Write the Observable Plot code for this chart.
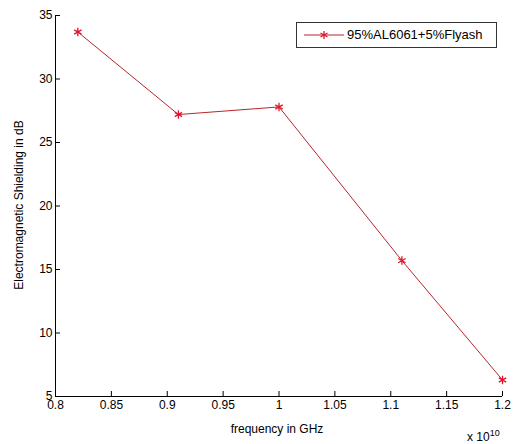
<!DOCTYPE html>
<html><head><meta charset="utf-8">
<script src="https://cdn.jsdelivr.net/npm/d3@7"></script>
<script src="https://cdn.jsdelivr.net/npm/@observablehq/plot@0.6"></script>
<style>
body{margin:0;background:#fff;font-family:"Liberation Sans",Arial,sans-serif;}
#wrap{position:relative;width:514px;height:444px;}
.ov{position:absolute;color:#000;}
</style></head>
<body><div id="wrap"></div>
<script>
const frequency = [0.82e10, 0.91e10, 1.0e10, 1.11e10, 1.2e10];
const shielding = [33.7, 27.2, 27.8, 15.7, 6.3];
const xTicks = [0.8e10, 0.85e10, 0.9e10, 0.95e10, 1.0e10, 1.05e10, 1.1e10, 1.15e10, 1.2e10];
const yTicks = [5, 10, 15, 20, 25, 30, 35];
const seriesName = "95%AL6061+5%Flyash";
const data = frequency.map((f, i) => ({f, s: shielding[i]}));

const lineColor = "#b8252c";
const markColor = "#e3142a";

const chart = Plot.plot({
  width: 514, height: 444,
  marginLeft: 55, marginRight: 12, marginTop: 15, marginBottom: 48,
  style: {fontFamily: '"Liberation Sans", Arial, sans-serif', fontSize: "12px", color: "#000", background: "#fff"},
  x: {domain: [0.8e10, 1.2e10]},
  y: {domain: [5, 35]},
  marks: [
    Plot.axisX({ticks: xTicks, tickSize: -5, tickPadding: 9, tickFormat: d => String(+(d / 1e10).toFixed(2)), label: null, fontSize: 12}),
    Plot.axisY({ticks: yTicks, tickSize: -5, tickPadding: 8, label: null, fontSize: 12}),
    Plot.ruleX([0.8e10], {stroke: "#000"}),
    Plot.ruleY([5], {stroke: "#000"}),
    Plot.line(data, {x: "f", y: "s", stroke: lineColor, strokeWidth: 1}),
    Plot.dot(data, {x: "f", y: "s", symbol: "asterisk", r: 4, stroke: markColor, strokeWidth: 1.3})
  ]
});
const wrap = document.getElementById("wrap");
wrap.appendChild(chart);

function ov(html, css){const d=document.createElement("div");d.className="ov";d.innerHTML=html;Object.assign(d.style,css);wrap.appendChild(d);return d;}
ov("frequency in GHz", {left:"0px", width:"554px", textAlign:"center", top:"422px", fontSize:"12px"});
ov("Electromagnetic Shielding in dB", {left:"19px", top:"205px", fontSize:"12px", transform:"translate(-50%,-50%) rotate(-90deg)", whiteSpace:"nowrap"});
ov("x 10<sup style='font-size:9px'>10</sup>", {left:"467px", top:"428px", fontSize:"12px"});
// legend
const leg = ov("", {left:"296px", top:"22px", width:"199px", height:"24px", border:"1px solid #333", background:"#fff"});
leg.innerHTML = `<svg width="46" height="24" style="position:absolute;left:5px;top:0"><line x1="2" x2="42" y1="12" y2="12" stroke="${lineColor}"/><g stroke="${markColor}" stroke-width="1.3"><line x1="22" x2="22" y1="8" y2="16"/><line x1="18.5" x2="25.5" y1="10" y2="14"/><line x1="18.5" x2="25.5" y1="14" y2="10"/></g></svg><span style="position:absolute;left:50px;top:4px;font-size:13px;white-space:nowrap">${seriesName}</span>`;
</script>
</body></html>
